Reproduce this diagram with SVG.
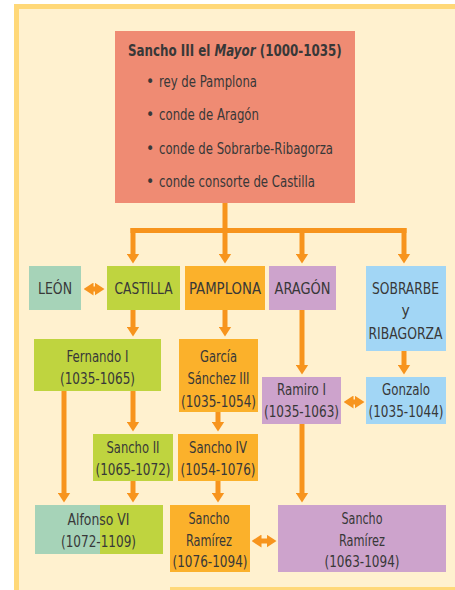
<svg xmlns="http://www.w3.org/2000/svg" width="455" height="590" viewBox="0 0 455 590">
<defs>
<style>
text{font-family:"DejaVu Sans Condensed","Liberation Sans Narrow","Liberation Sans",sans-serif;font-size:15.5px;fill:#383838;text-anchor:middle}
.l{text-anchor:start}
.t{font-weight:bold;font-size:16px}
.c{fill:none;stroke:#F7941D;stroke-width:5}
.lime{fill:#BFD43F}.org{fill:#FBB12B}.lil{fill:#CDA3CC}.blu{fill:#A2D6F5}.teal{fill:#A6D3B8}
</style>
<marker id="ah" viewBox="0 0 10 13" refX="0.5" refY="6.5" markerWidth="10" markerHeight="13" markerUnits="userSpaceOnUse" orient="auto-start-reverse">
<path d="M0,0 L10,6.5 L0,13 Z" fill="#F7941D"/>
</marker>
</defs>
<rect x="0" y="0" width="455" height="590" fill="#fff"/>
<rect x="16.5" y="6.5" width="450" height="600" fill="#FFF1CF" stroke="#FFD878" stroke-width="5"/>
<rect x="170" y="587" width="285" height="3" fill="#FFD878"/>

<g id="connectors">
<path class="c" d="M225,203 V230.5 M130.5,230.5 H406.5"/>
<path class="c" d="M133,228 V254" marker-end="url(#ah)"/>
<path class="c" d="M225,230.5 V254" marker-end="url(#ah)"/>
<path class="c" d="M302,230.5 V254" marker-end="url(#ah)"/>
<path class="c" d="M404,228 V254" marker-end="url(#ah)"/>
<path class="c" d="M133,310 V327" marker-end="url(#ah)"/>
<path class="c" d="M225,310 V327" marker-end="url(#ah)"/>
<path class="c" d="M302,310 V365" marker-end="url(#ah)"/>
<path class="c" d="M404,351 V365" marker-end="url(#ah)"/>
<path class="c" d="M133,391 V422" marker-end="url(#ah)"/>
<path class="c" d="M64,391 V493" marker-end="url(#ah)"/>
<path class="c" d="M218,412 V422" marker-end="url(#ah)"/>
<path class="c" d="M133,481 V493" marker-end="url(#ah)"/>
<path class="c" d="M218,481 V493" marker-end="url(#ah)"/>
<path class="c" d="M302,424 V493" marker-end="url(#ah)"/>
<path class="c" d="M93,289 H95" marker-start="url(#ah)" marker-end="url(#ah)"/>
<path class="c" d="M353,402 H355" marker-start="url(#ah)" marker-end="url(#ah)"/>
<path class="c" d="M261,541 H267" marker-start="url(#ah)" marker-end="url(#ah)"/>
</g>

<g id="sancho3">
<rect x="115" y="31" width="240" height="172" fill="#EF8B73"/>
<text class="l t" transform="translate(128,56) scale(0.826,1)">Sancho III el <tspan font-style="italic">Mayor</tspan> (1000-1035)</text>
<text class="l" x="146" y="87">•</text><text class="l" x="159" y="87" textLength="98" lengthAdjust="spacingAndGlyphs">rey de Pamplona</text>
<text class="l" x="146" y="120">•</text><text class="l" x="159" y="120" textLength="100" lengthAdjust="spacingAndGlyphs">conde de Aragón</text>
<text class="l" x="146" y="154">•</text><text class="l" x="159" y="154" textLength="174" lengthAdjust="spacingAndGlyphs">conde de Sobrarbe-Ribagorza</text>
<text class="l" x="146" y="187">•</text><text class="l" x="159" y="187" textLength="156" lengthAdjust="spacingAndGlyphs">conde consorte de Castilla</text>
</g>

<g id="leon"><rect class="teal" x="29" y="266" width="52" height="44"/><text x="55" y="294" textLength="34" lengthAdjust="spacingAndGlyphs">LEÓN</text></g>
<g id="castilla"><rect class="lime" x="107" y="266" width="73" height="44"/><text x="143.5" y="294" textLength="58" lengthAdjust="spacingAndGlyphs">CASTILLA</text></g>
<g id="pamplona"><rect class="org" x="185" y="266" width="80" height="44"/><text x="225" y="294" textLength="72" lengthAdjust="spacingAndGlyphs">PAMPLONA</text></g>
<g id="aragon"><rect class="lil" x="269" y="266" width="67" height="44"/><text x="302.5" y="294" textLength="56" lengthAdjust="spacingAndGlyphs">ARAGÓN</text></g>
<g id="sobrarbe"><rect class="blu" x="366" y="266" width="80" height="85"/><text x="405.5" y="294" textLength="67" lengthAdjust="spacingAndGlyphs">SOBRARBE</text><text x="405.5" y="316">y</text><text x="405.5" y="339" textLength="74" lengthAdjust="spacingAndGlyphs">RIBAGORZA</text></g>

<g id="fernando"><rect class="lime" x="34" y="339" width="127" height="52"/><text x="97.5" y="362" textLength="62" lengthAdjust="spacingAndGlyphs">Fernando I</text><text x="97.5" y="384" textLength="75" lengthAdjust="spacingAndGlyphs">(1035-1065)</text></g>
<g id="garcia"><rect class="org" x="179" y="339" width="79" height="73"/><text x="218.5" y="362" textLength="37" lengthAdjust="spacingAndGlyphs">García</text><text x="218.5" y="384" textLength="62" lengthAdjust="spacingAndGlyphs">Sánchez III</text><text x="218.5" y="407" textLength="75" lengthAdjust="spacingAndGlyphs">(1035-1054)</text></g>
<g id="ramiro"><rect class="lil" x="262" y="377" width="79" height="47"/><text x="301.5" y="395" textLength="49" lengthAdjust="spacingAndGlyphs">Ramiro I</text><text x="301.5" y="417" textLength="75" lengthAdjust="spacingAndGlyphs">(1035-1063)</text></g>
<g id="gonzalo"><rect class="blu" x="366" y="377" width="80" height="47"/><text x="406" y="395" textLength="48" lengthAdjust="spacingAndGlyphs">Gonzalo</text><text x="406" y="417" textLength="75" lengthAdjust="spacingAndGlyphs">(1035-1044)</text></g>

<g id="sancho2"><rect class="lime" x="93" y="434" width="80" height="47"/><text x="133" y="453" textLength="53" lengthAdjust="spacingAndGlyphs">Sancho II</text><text x="133" y="475" textLength="75" lengthAdjust="spacingAndGlyphs">(1065-1072)</text></g>
<g id="sancho4"><rect class="org" x="178" y="434" width="80" height="47"/><text x="218" y="453" textLength="58" lengthAdjust="spacingAndGlyphs">Sancho IV</text><text x="218" y="475" textLength="75" lengthAdjust="spacingAndGlyphs">(1054-1076)</text></g>

<g id="alfonso6"><rect class="teal" x="35" y="505" width="65" height="49"/><rect class="lime" x="100" y="505" width="63" height="49"/><text x="98.5" y="525" textLength="62" lengthAdjust="spacingAndGlyphs">Alfonso VI</text><text x="98.5" y="547" textLength="75" lengthAdjust="spacingAndGlyphs">(1072-1109)</text></g>
<g id="sanchoRamirezP"><rect class="org" x="170" y="505" width="80" height="67"/><text x="209" y="524" textLength="41" lengthAdjust="spacingAndGlyphs">Sancho</text><text x="209" y="546" textLength="46" lengthAdjust="spacingAndGlyphs">Ramírez</text><text x="210" y="567" textLength="75" lengthAdjust="spacingAndGlyphs">(1076-1094)</text></g>
<g id="sanchoRamirezA"><rect class="lil" x="278" y="505" width="168" height="67"/><text x="362" y="524" textLength="41" lengthAdjust="spacingAndGlyphs">Sancho</text><text x="362" y="546" textLength="46" lengthAdjust="spacingAndGlyphs">Ramírez</text><text x="362" y="567" textLength="75" lengthAdjust="spacingAndGlyphs">(1063-1094)</text></g>
</svg>
